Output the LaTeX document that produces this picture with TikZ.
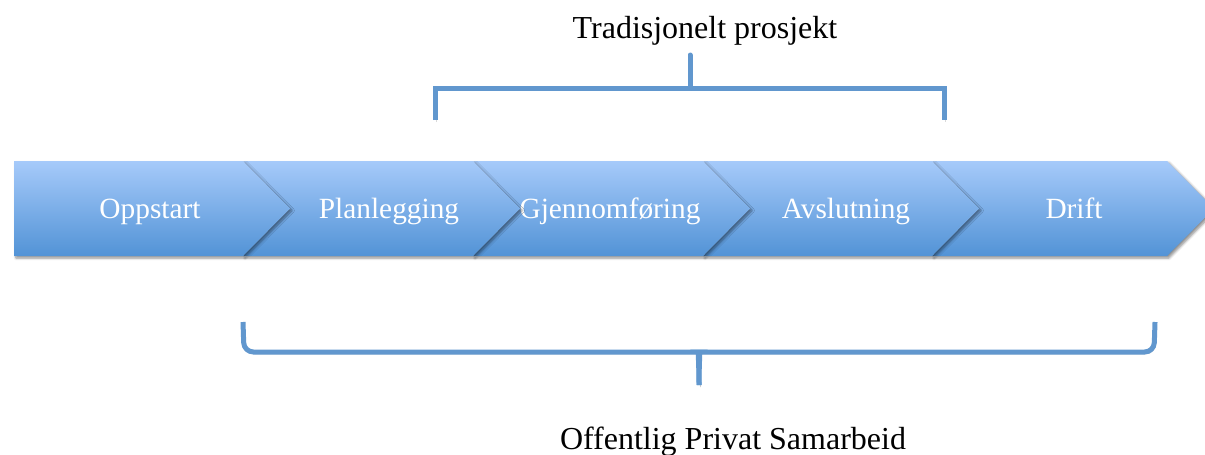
\documentclass[tikz,border=0pt]{standalone}
\usepackage{fontspec}
\setmainfont{Liberation Serif}
\usetikzlibrary{shadows.blur}
\definecolor{chevtop}{RGB}{166,202,250}
\definecolor{chevbot}{RGB}{82,147,214}
\definecolor{bracecol}{RGB}{97,151,206}
\tikzset{
    chevron/.style={top color=chevtop, bottom color=chevbot,
        blur shadow={shadow xshift=1.5pt, shadow yshift=-1.5pt, shadow blur steps=6, shadow opacity=45}},
    chevlabel/.style={anchor=base, text=white, font=\fontsize{22}{26}\selectfont},
    bracket/.style={draw=bracecol, line width=3.75pt,
        preaction={draw=black, opacity=0.15, transform canvas={shift={(1pt,-1.5pt)}}}},
    title/.style={anchor=base, font=\fontsize{24}{28}\selectfont}
}

\begin{document}
\begin{tikzpicture}[x=0.75pt, y=-0.75pt]
    \useasboundingbox (0,0) rectangle (1205,454);
    \foreach \i/\l/\r/\lx/\txt in {5/932/1167/1074/Drift, 4/703/932/846/Avslutning, 3/473/703/610/Gjennomføring, 2/243/473/389/Planlegging}
    {
        \path[chevron] (\l,161) -- (\r,161) -- (\r+47,208.5) -- (\r,256) -- (\l,256) -- (\l+47,208.5) -- cycle;
        \node[chevlabel] (s\i) at (\lx,218) {\txt};
    }
    \path[chevron] (14,161) -- (243,161) -- (290,208.5) -- (243,256) -- (14,256) -- cycle;
    \node[chevlabel] (s1) at (150,218) {Oppstart};

    \coordinate (tl) at (435,120);
    \coordinate (tr) at (944,120);
    \coordinate (tm) at (690,88);
    \coordinate (tt) at (690,55);
    \draw[bracket] (tl) |- (tm) -| (tr);
    \draw[bracket, line cap=round] (tm) -- (tt);
    \node[title] (trad) at (705,38) {Tradisjonelt prosjekt};

    \coordinate (bl) at (243,322);
    \coordinate (br) at (1155,322);
    \coordinate (bt) at (699,385);
    \draw[bracket, rounded corners=7] (bl) -- (244,352) -- (691,352) .. controls (697,352) and (699,357) .. (bt);
    \draw[bracket, rounded corners=7] (br) -- (1154,352) -- (707,352) .. controls (701,352) and (699,357) .. (bt);
    \node[title] (ops) at (733,449) {Offentlig Privat Samarbeid};
\end{tikzpicture}
\end{document}
